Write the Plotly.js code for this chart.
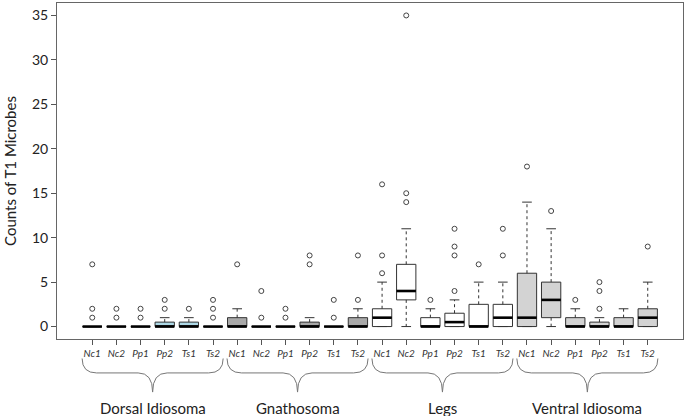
<!DOCTYPE html>
<html>
<head>
<meta charset="utf-8">
<script src="https://cdn.plot.ly/plotly-3.0.1.min.js"></script>
<style>html,body{margin:0;padding:0;background:#fff;}#chart{width:685px;height:416px;}</style>
</head>
<body>
<div id="chart"></div>
<script>
// ---- data ----
const tickLabels = ['Nc1','Nc2','Pp1','Pp2','Ts1','Ts2',
                    'Nc1','Nc2','Pp1','Pp2','Ts1','Ts2',
                    'Nc1','Nc2','Pp1','Pp2','Ts1','Ts2',
                    'Nc1','Nc2','Pp1','Pp2','Ts1','Ts2'];
const regions = ['Dorsal Idiosoma','Gnathosoma','Legs','Ventral Idiosoma'];

const q1Values     = [0,0,0,0,0,0,   0,0,0,0,0,0,     0,3,0,0,0,0,       0,1,0,0,0,0];
const medianValues = [0,0,0,0,0,0,   0,0,0,0,0,0,     1,4,0,0.5,0,1,     1,3,0,0,0,1];
const q3Values     = [0,0,0,0.5,0.5,0, 1,0,0,0.5,0,1, 2,7,1,1.5,2.5,2.5, 6,5,1,0.5,1,2];
const lowerWhisker = [0,0,0,0,0,0,   0,0,0,0,0,0,     0,0,0,0,0,0,       0,0,0,0,0,0];
const upperWhisker = [0,0,0,1,1,0,   2,0,0,1,0,2,     5,11,2,3,5,5,      14,11,2,1,2,5];
const outlierValues = [
  [1,2,7],[1,2],[1,2],[2,3],[2],[1,2,3],
  [7],[1,4],[1,2],[7,8],[1,3],[3,8],
  [6,8,16],[14,15,35],[3],[4,8,9,11],[7],[8,11],
  [18],[13],[3],[2,4,5],[],[9]
];

// ---- style ----
const regionFill = ['#add8e6','#a9a9a9','#ffffff','#d3d3d3'];
const FONT = 'Lato, "Open Sans", sans-serif';
const boxW = 0.8, capHalf = 0.2;

const positions = tickLabels.map((_, i) => i + 1);
const traces = [];

regions.forEach((r, g) => {
  const s = g * 6, e = s + 6;
  traces.push({
    type: 'box',
    x: positions.slice(s, e),
    q1: q1Values.slice(s, e),
    median: medianValues.slice(s, e),
    q3: q3Values.slice(s, e),
    lowerfence: q1Values.slice(s, e),
    upperfence: q3Values.slice(s, e),
    fillcolor: regionFill[g],
    line: {color: '#333', width: 1},
    width: boxW,
    whiskerwidth: 0,
    boxpoints: false,
    hoverinfo: 'skip',
    showlegend: false
  });
});

// whiskers (dashed), caps, medians, outliers
const wx = [], wy = [], cx = [], cy = [], mx = [], my = [], ox = [], oy = [];
positions.forEach((p, i) => {
  wx.push(p, p, null, p, p, null);
  wy.push(q3Values[i], upperWhisker[i], null, q1Values[i], lowerWhisker[i], null);
  cx.push(p - capHalf, p + capHalf, null, p - capHalf, p + capHalf, null);
  cy.push(upperWhisker[i], upperWhisker[i], null, lowerWhisker[i], lowerWhisker[i], null);
  mx.push(p - boxW / 2, p + boxW / 2, null);
  my.push(medianValues[i], medianValues[i], null);
  outlierValues[i].forEach(v => { ox.push(p); oy.push(v); });
});
traces.push({type: 'scatter', mode: 'lines', x: wx, y: wy, line: {color: '#333', width: 1, dash: '3px,3px'}, hoverinfo: 'skip', showlegend: false});
traces.push({type: 'scatter', mode: 'lines', x: cx, y: cy, line: {color: '#333', width: 1}, hoverinfo: 'skip', showlegend: false});
traces.push({type: 'scatter', mode: 'lines', x: mx, y: my, line: {color: '#000', width: 2.6}, hoverinfo: 'skip', showlegend: false});
traces.push({type: 'scatter', mode: 'markers', x: ox, y: oy, marker: {symbol: 'circle-open', size: 5, color: '#444', line: {width: 1}}, hoverinfo: 'skip', showlegend: false});

// braces and region labels
const shapes = [], annotations = [];
const yTop = -0.058, yMid = -0.101, yTip = -0.158, yLabel = -0.205, rx = 0.6;
regions.forEach((r, g) => {
  const xL = positions[g * 6] - 0.42, xR = positions[g * 6 + 5] + 0.42, xc = (xL + xR) / 2;
  const path = `M ${xL},${yTop} Q ${xL},${yMid} ${xL + rx},${yMid} L ${xc - rx},${yMid} Q ${xc},${yMid} ${xc},${yTip} ` +
               `Q ${xc},${yMid} ${xc + rx},${yMid} L ${xR - rx},${yMid} Q ${xR},${yMid} ${xR},${yTop}`;
  shapes.push({type: 'path', xref: 'x', yref: 'paper', path: path, line: {color: '#777', width: 1}});
  annotations.push({xref: 'x', yref: 'paper', x: xc, y: yLabel, text: r, showarrow: false,
    xanchor: 'center', yanchor: 'middle', font: {family: FONT, size: 15, color: '#222'}});
});

const layout = {
  width: 685, height: 416,
  margin: {l: 57, r: 2, t: 3, b: 77},
  paper_bgcolor: '#fff', plot_bgcolor: '#fff',
  boxmode: 'overlay',
  showlegend: false,
  font: {family: FONT, color: '#222'},
  xaxis: {
    range: [-0.46, 25.46], tickvals: positions, ticktext: tickLabels,
    ticks: 'outside', ticklen: 5, tickcolor: '#555', tickwidth: 1,
    tickfont: {family: FONT, size: 10, style: 'italic', color: '#333'},
    showline: true, mirror: true, linecolor: '#666', linewidth: 1,
    showgrid: false, zeroline: false, fixedrange: true
  },
  yaxis: {
    range: [-1.4, 36.4], tickvals: [0,5,10,15,20,25,30,35],
    ticks: 'outside', ticklen: 5, tickcolor: '#555', tickwidth: 1,
    tickfont: {family: FONT, size: 14, color: '#222'},
    showline: true, mirror: true, linecolor: '#666', linewidth: 1,
    showgrid: false, zeroline: false,
    title: {text: 'Counts of T1 Microbes', font: {family: FONT, size: 15, color: '#222'}, standoff: 11}
  },
  shapes: shapes,
  annotations: annotations
};

Plotly.newPlot('chart', traces, layout, {staticPlot: true, displayModeBar: false});
</script>
</body>
</html>
